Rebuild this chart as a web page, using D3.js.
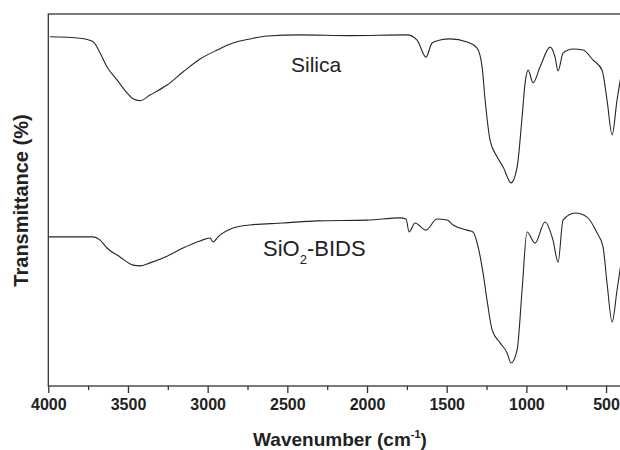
<!DOCTYPE html>
<html>
<head>
<meta charset="utf-8">
<script src="https://cdn.jsdelivr.net/npm/d3@7"></script>
<style>
  html, body { margin: 0; padding: 0; background: #fff; }
  svg { display: block; }
</style>
</head>
<body>
<svg id="chart" width="620" height="450"></svg>
<script>
// Wavenumber (cm-1) and relative transmittance (a.u., 0-100)
const silicaWavenumber = [3990, 3800, 3720, 3675, 3632, 3569, 3506, 3468, 3425, 3362, 3255, 3155, 3048, 2941, 2841, 2734, 2627, 2420, 2107, 1749, 1686, 1630, 1592, 1542, 1479, 1372, 1310, 1278, 1259, 1228, 1184, 1146, 1096, 1058, 1027, 1008, 989, 958, 914, 851, 820, 801, 770, 707, 644, 581, 525, 494, 462, 431, 400];
const silicaT = [93.9, 93.5, 92.6, 89.5, 85.8, 82.3, 78.8, 77.2, 76.7, 78.2, 80.9, 84.4, 87.9, 90.3, 92.2, 93.3, 94.1, 94.4, 94.2, 94.4, 93.0, 88.4, 92.2, 93.0, 93.3, 92.5, 90.9, 85.8, 76.9, 66.1, 61.6, 58.9, 54.6, 58.9, 72.3, 81.5, 84.9, 81.5, 85.8, 91.1, 88.4, 84.7, 89.5, 90.6, 90.3, 87.6, 84.9, 76.9, 67.5, 76.9, 84.9];

const bidsWavenumber = [4000, 3720, 3675, 3632, 3550, 3468, 3425, 3362, 3255, 3155, 3048, 2985, 2966, 2935, 2841, 2734, 2527, 2314, 2000, 1793, 1755, 1736, 1699, 1630, 1561, 1498, 1460, 1372, 1335, 1303, 1272, 1247, 1215, 1165, 1121, 1096, 1058, 1027, 996, 946, 883, 833, 801, 770, 694, 619, 556, 519, 494, 462, 431, 400];
const bidsT = [40.1, 40.1, 39.2, 37.1, 34.7, 32.5, 32.3, 33.1, 34.9, 37.1, 39.0, 39.8, 38.7, 40.1, 42.5, 43.3, 43.8, 44.4, 44.6, 45.2, 44.9, 41.4, 43.8, 41.9, 44.9, 44.6, 43.3, 41.9, 41.4, 37.4, 30.4, 23.1, 15.1, 11.6, 8.9, 6.2, 9.7, 25.8, 41.4, 38.4, 44.1, 39.2, 33.3, 44.6, 46.5, 45.4, 41.1, 37.4, 27.7, 17.2, 25.8, 34.7];

const majorTicks = [4000, 3500, 3000, 2500, 2000, 1500, 1000, 500];
const minorTicks = [3750, 3250, 2750, 2250, 1750, 1250, 750];

const svg = d3.select("#chart");
const pLeft = 48.3, pRight = 622, pTop = 14, pBottom = 386;

const x = d3.scaleLinear().domain([4000, 400]).range([pLeft, pRight]);
const y = d3.scaleLinear().domain([0, 100]).range([pBottom, pTop]);

const ink = "#262626";

// curves
const line = d3.line()
  .x(d => x(d[0]))
  .y(d => y(d[1]))
  .curve(d3.curveMonotoneX);

const silica = silicaWavenumber.map((w, i) => [w, silicaT[i]]);
const bids = bidsWavenumber.map((w, i) => [w, bidsT[i]]);

[silica, bids].forEach(data => {
  svg.append("path")
    .datum(data)
    .attr("d", line)
    .attr("fill", "none")
    .attr("stroke", ink)
    .attr("stroke-width", 1.1)
    .attr("stroke-linejoin", "round");
});

// frame
svg.append("rect")
  .attr("x", pLeft).attr("y", pTop)
  .attr("width", pRight - pLeft).attr("height", pBottom - pTop)
  .attr("fill", "none").attr("stroke", "#333").attr("stroke-width", 1.3);

// bottom axis: major
const gMajor = svg.append("g")
  .attr("transform", `translate(0,${pBottom})`)
  .call(d3.axisBottom(x).tickValues(majorTicks).tickSize(7).tickPadding(6).tickFormat(d3.format("d")));
gMajor.select(".domain").remove();
gMajor.selectAll(".tick line").attr("stroke", "#333").attr("stroke-width", 1.3);
gMajor.selectAll(".tick text")
  .attr("fill", "#222")
  .style("font-family", "'Liberation Sans', Arial, sans-serif")
  .style("font-weight", "bold")
  .style("font-size", "16px");

// bottom axis: minor
const gMinor = svg.append("g")
  .attr("transform", `translate(0,${pBottom})`)
  .call(d3.axisBottom(x).tickValues(minorTicks).tickSize(4).tickFormat(""));
gMinor.select(".domain").remove();
gMinor.selectAll(".tick line").attr("stroke", "#333").attr("stroke-width", 1.3);

// axis titles
const xt = svg.append("text")
  .attr("x", 340).attr("y", 446)
  .attr("text-anchor", "middle")
  .attr("fill", "#222")
  .style("font-family", "'Liberation Sans', Arial, sans-serif")
  .style("font-weight", "bold")
  .style("font-size", "19px");
xt.append("tspan").text("Wavenumber (cm");
xt.append("tspan").attr("dy", -8).style("font-size", "11px").text("-1");
xt.append("tspan").attr("dy", 8).text(")");

svg.append("text")
  .attr("transform", "translate(28,200.5) rotate(-90)")
  .attr("text-anchor", "middle")
  .attr("fill", "#222")
  .style("font-family", "'Liberation Sans', Arial, sans-serif")
  .style("font-weight", "bold")
  .style("font-size", "20px")
  .text("Transmittance (%)");

// series labels
svg.append("text")
  .attr("x", 291).attr("y", 72)
  .attr("fill", "#222")
  .style("font-family", "'Liberation Sans', Arial, sans-serif")
  .style("font-size", "21px")
  .text("Silica");

const bl = svg.append("text")
  .attr("x", 263).attr("y", 256)
  .attr("fill", "#222")
  .style("font-family", "'Liberation Sans', Arial, sans-serif")
  .style("font-size", "22px");
bl.append("tspan").text("SiO");
bl.append("tspan").attr("dy", 8).style("font-size", "13px").text("2");
bl.append("tspan").attr("dy", -8).text("-BIDS");
</script>
</body>
</html>
